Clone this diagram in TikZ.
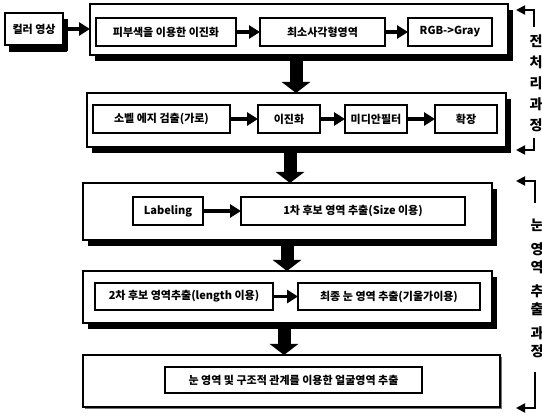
\documentclass[tikz,border=0pt]{standalone}
\usepackage{fontspec}
\setmainfont{Noto Sans CJK KR}
\usetikzlibrary{arrows.meta,shadows,calc}
\begin{document}
\begin{tikzpicture}[x=1pt,y=-1pt,
  every node/.style={inner sep=0pt,outer sep=0pt},
  grp/.style={draw=black,line width=1.2pt,fill=white,rectangle,
    drop shadow={shadow xshift=5pt,shadow yshift=-6pt,fill=black,opacity=1}},
  grplite/.style={draw=black,line width=1.2pt,fill=white,rectangle,
    drop shadow={shadow xshift=2pt,shadow yshift=-2pt,fill=black!55,opacity=1}},
  ibox/.style={draw=black,line width=1.6pt,fill=white,rectangle,minimum height=28pt,
    font=\fontsize{11}{12}\selectfont\bfseries},
  sarrow/.style={line width=3.2pt,-{Triangle[width=13pt,length=11pt]}},
  barrow/.style={line width=13pt,-{Triangle[width=28pt,length=11pt]}},
  brkarrow/.style={line width=1.8pt,-{Triangle[width=9pt,length=9pt]}},
  vlab/.style={align=center,font=\fontsize{14}{21}\selectfont\bfseries}
]
\useasboundingbox (0,0) rectangle (542,417);

% input
\node[ibox,grp,minimum width=58pt,minimum height=32pt,
  drop shadow={shadow xshift=4pt,shadow yshift=-7pt,fill=black,opacity=1}]
  (c) at (34,29) {컬러 영상};

% group 1
\node[grp,minimum width=418pt,minimum height=51pt] (G1) at (299,29.5) {};
\node[ibox,minimum width=140pt] (b11) at (166,32) {피부색을 이용한 이진화};
\node[ibox,minimum width=125pt] (b12) at (322.5,32) {최소사각형영역};
\node[ibox,minimum width=84pt] (b13) at (450,32) {RGB->Gray};
\draw[sarrow] (c.east) -- (c.east -| G1.west);
\draw[sarrow] (b11) -- (b12);
\draw[sarrow] (b12) -- (b13);

% group 2
\node[grp,minimum width=419pt,minimum height=54pt] (G2) at (296.5,120) {};
\node[ibox,minimum width=137pt] (b21) at (161.5,119) {소벨 에지 검출(가로)};
\node[ibox,minimum width=62pt] (b22) at (289,119) {이진화};
\node[ibox,minimum width=62pt] (b23) at (376,119) {미디안필터};
\node[ibox,minimum width=62pt] (b24) at (466,119) {확장};
\draw[sarrow] (b21) -- (b22);
\draw[sarrow] (b22) -- (b23);
\draw[sarrow] (b23) -- (b24);

% group 3
\node[grp,minimum width=409pt,minimum height=57pt] (G3) at (287.5,211.5) {};
\node[ibox,minimum width=70pt] (b31) at (168,211) {Labeling};
\node[ibox,minimum width=224pt] (b32) at (353,211) {1차 후보 영역 추출(Size 이용)};
\draw[sarrow] (b31) -- (b32);

% group 4
\node[grp,minimum width=409pt,minimum height=52pt] (G4) at (287.5,297) {};
\node[ibox,minimum width=178pt,minimum height=27pt] (b41) at (184,296.5) {2차 후보 영역추출(length 이용)};
\node[ibox,minimum width=182pt,minimum height=27pt] (b42) at (389,296.5) {최종 눈 영역 추출(기울가이용)};
\draw[sarrow] (b41) -- (b42);

% group 5
\node[grplite,minimum width=417pt,minimum height=52pt] (G5) at (291.5,381) {};
\node[ibox,minimum width=257pt,minimum height=26pt] (b51) at (293.5,380) {눈 영역 및 구조적 관계를 이용한 얼굴영역 추출};

% big arrows
\coordinate (x1) at (296,0);
\coordinate (x2) at (290,0);
\coordinate (x3) at (287,0);
\coordinate (x4) at (284,0);
\draw[barrow] ([yshift=-2pt]x1 |- G1.south) -- (x1 |- G2.north);
\draw[barrow] ([yshift=-2pt]x2 |- G2.south) -- (x2 |- G3.north);
\draw[barrow] ([yshift=-2pt]x3 |- G3.south) -- (x3 |- G4.north);
\draw[barrow] ([yshift=-2pt]x4 |- G4.south) -- (x4 |- G5.north);

% right bracket 1
\node[vlab] (L1) at (536,83) {전\\처\\리\\과\\정};
\coordinate (s1) at (534,27);
\coordinate (t1c) at (534,10);
\coordinate (t1) at (516,10);
\coordinate (s1b) at (534,138);
\coordinate (e1c) at (534,150);
\coordinate (e1) at (516,150);
\draw[brkarrow] (s1) -- (t1c) -- (t1);
\draw[brkarrow] (s1b) -- (e1c) -- (e1);

% right bracket 2
\node[vlab,font=\fontsize{14}{18}\selectfont\bfseries] (L2) at (537,288) {눈\\[6pt]영\\역\\[6pt]추\\출\\[6pt]과\\정};
\coordinate (s2) at (535,203);
\coordinate (t2c) at (535,181);
\coordinate (t2) at (516,181);
\coordinate (s2b) at (535,372);
\coordinate (e2c) at (535,408);
\coordinate (e2) at (516,408);
\draw[brkarrow] (s2) -- (t2c) -- (t2);
\draw[brkarrow] (s2b) -- (e2c) -- (e2);
\end{tikzpicture}
\end{document}
